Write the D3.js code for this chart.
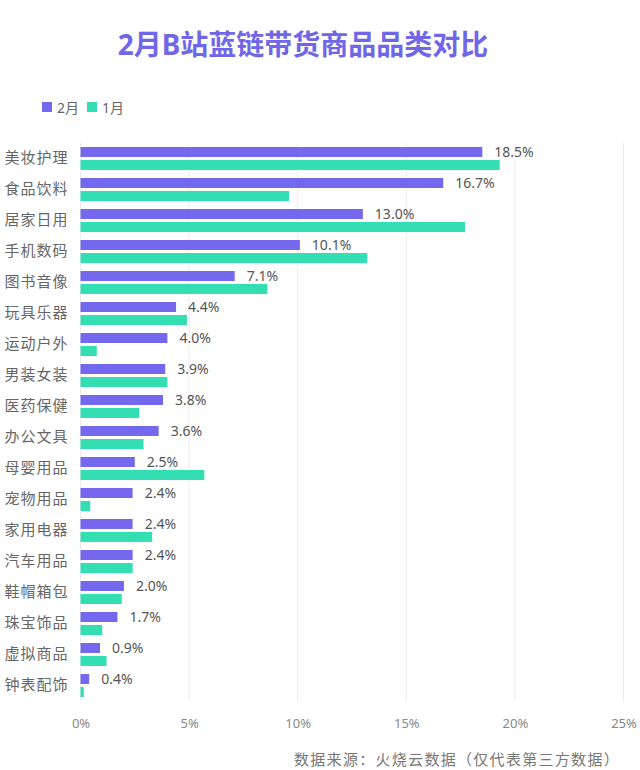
<!DOCTYPE html>
<html>
<head>
<meta charset="utf-8">
<script src="https://cdn.jsdelivr.net/npm/d3@7"></script>
<style>
  body { margin: 0; background: #fff; }
  text { font-family: "Noto Sans", "Noto Sans CJK SC", sans-serif; }
</style>
</head>
<body>
<svg id="chart" width="640" height="770"></svg>
<script>
// values
var categories = ['美妆护理','食品饮料','居家日用','手机数码','图书音像','玩具乐器','运动户外','男装女装','医药保健',
  '办公文具','母婴用品','宠物用品','家用电器','汽车用品','鞋帽箱包','珠宝饰品','虚拟商品','钟表配饰'];
var feb = [18.5, 16.7, 13.0, 10.1, 7.1, 4.4, 4.0, 3.9, 3.8, 3.6, 2.5, 2.4, 2.4, 2.4, 2.0, 1.7, 0.9, 0.4];
var jan = [19.3, 9.6, 17.7, 13.2, 8.6, 4.9, 0.75, 4.0, 2.7, 2.9, 5.7, 0.45, 3.3, 2.4, 1.9, 1.0, 1.2, 0.15];
var seriesNames = ['2月', '1月'];
var xTicks = [0, 5, 10, 15, 20, 25];

var colours = ['#7469ee', '#34deb3'];

var svg = d3.select('#chart');
var margin = {left: 80.5, right: 16.5, top: 143, bottom: 69};
var W = 640, H = 770;

var x = d3.scaleLinear().domain([0, 25]).range([margin.left, W - margin.right]);
var y0 = d3.scaleBand().domain(categories).range([margin.top, H - margin.bottom]);
var y1 = d3.scaleBand().domain(seriesNames).range([4, y0.bandwidth() - 4]).paddingInner(0.2308);

// title
svg.append('text')
  .attr('x', 303).attr('y', 55)
  .attr('text-anchor', 'middle')
  .style('font-size', '28px').style('font-weight', 'bold')
  .style('fill', '#6f66e8')
  .text('2月B站蓝链带货商品品类对比');

// legend
var legend = svg.append('g').attr('transform', 'translate(42,102)');
var lx = 0;
seriesNames.forEach(function(name, i) {
  legend.append('rect').attr('x', lx).attr('y', 0).attr('width', 10).attr('height', 10).style('fill', colours[i]);
  legend.append('text').attr('x', lx + 15).attr('y', 10.5)
    .style('font-size', '14px').style('fill', '#666').text(name);
  lx += 45;
});

// grid
svg.append('g').selectAll('line')
  .data(xTicks).enter().append('line')
  .attr('x1', function(d) { return x(d); })
  .attr('x2', function(d) { return x(d); })
  .attr('y1', margin.top).attr('y2', H - margin.bottom)
  .style('stroke', '#ececec').style('stroke-width', 1);

// x axis labels
var xAxis = d3.axisBottom(x).tickValues(xTicks).tickSize(0).tickPadding(0)
  .tickFormat(function(d) { return d + '%'; });
var gx = svg.append('g').attr('transform', 'translate(0,' + 719 + ')').call(xAxis);
gx.select('.domain').remove();
gx.selectAll('text').style('font-size', '13px').style('fill', '#888')
  .style('font-family', '"Noto Sans", sans-serif');

// category labels
var yAxis = d3.axisLeft(y0).tickSize(0).tickPadding(12);
var gy = svg.append('g').attr('transform', 'translate(' + margin.left + ',0)').call(yAxis);
gy.select('.domain').remove();
gy.selectAll('text').style('font-size', '15px').style('fill', '#666')
  .style('letter-spacing', '1px')
  .style('font-family', '"Noto Sans CJK SC", sans-serif');

// bars
var rows = categories.map(function(c, i) {
  return {cat: c, vals: [{s: seriesNames[0], v: feb[i]}, {s: seriesNames[1], v: jan[i]}]};
});

var groups = svg.append('g').selectAll('g')
  .data(rows).enter().append('g')
  .attr('transform', function(d) { return 'translate(0,' + y0(d.cat) + ')'; });

groups.selectAll('rect')
  .data(function(d) { return d.vals; })
  .enter().append('rect')
  .attr('x', x(0))
  .attr('y', function(d) { return y1(d.s); })
  .attr('width', function(d) { return x(d.v) - x(0); })
  .attr('height', y1.bandwidth())
  .style('fill', function(d, i) { return colours[i]; });

// value labels on 2月 bars
groups.append('text')
  .attr('x', function(d) { return x(d.vals[0].v) + 12; })
  .attr('y', function(d) { return y1(seriesNames[0]) + y1.bandwidth() / 2; })
  .attr('dy', '0.33em')
  .style('font-size', '14px').style('fill', '#555')
  .text(function(d) { return d.vals[0].v.toFixed(1) + '%'; });

// source
svg.append('text')
  .attr('x', 294).attr('y', 765)
  .style('font-size', '15px').style('fill', '#777')
  .style('letter-spacing', '1.3px')
  .style('font-family', '"Noto Sans CJK SC", sans-serif')
  .text('数据来源：火烧云数据（仅代表第三方数据）');
</script>
</body>
</html>
